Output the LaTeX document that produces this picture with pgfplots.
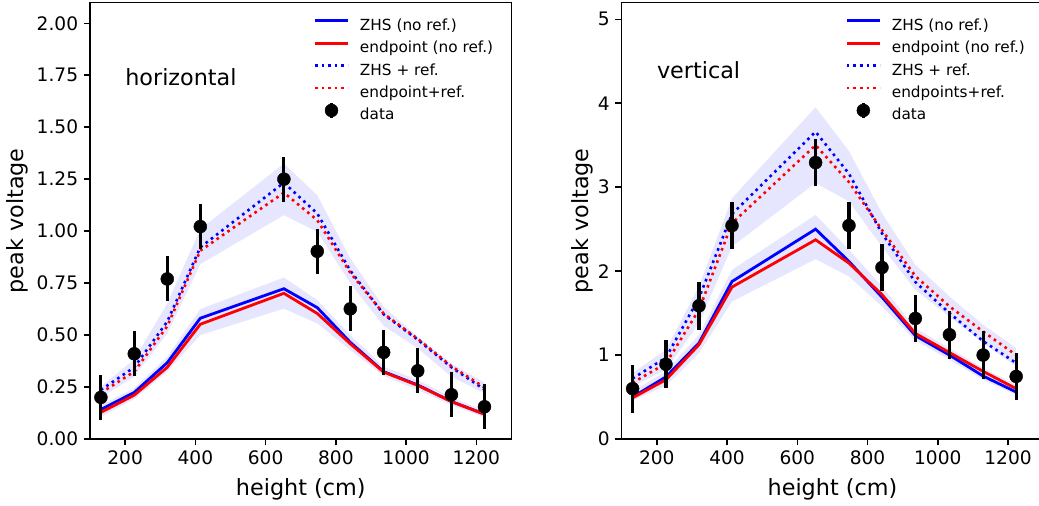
\documentclass[border=0pt]{standalone}
\usepackage{fontspec}
\setmainfont{DejaVu Sans}
\usepackage{pgfplots}
\pgfplotsset{compat=1.18}
\usepackage{pgfplotstable}
\usepgfplotslibrary{fillbetween}
\definecolor{bandc}{RGB}{230,230,255}
\newcommand\tickfont{\fontsize{18.6}{20}\selectfont}
\newcommand\labfont{\fontsize{22.3}{24}\selectfont}
\newcommand\legfont{\fontsize{15.3}{17}\selectfont}

% x: height; zs/es: ZHS / endpoint (no ref.); zd/ed: ZHS / endpoint + ref.
% lt/lb, ut/ub: lower and upper bands; d/e: data and error
\pgfplotstableread{
x    zs    es    zd    ed    lt    lb    ut    ub    d     e
131  0.142 0.128 0.236 0.222 0.163 0.107 0.252 0.200 0.200 0.108
226  0.224 0.211 0.345 0.324 0.244 0.192 0.383 0.300 0.410 0.108
320  0.367 0.345 0.565 0.543 0.396 0.324 0.652 0.508 0.770 0.108
414  0.581 0.552 0.922 0.906 0.625 0.500 1.010 0.841 1.022 0.108
652  0.723 0.701 1.233 1.185 0.777 0.627 1.325 1.077 1.250 0.108
747  0.632 0.604 1.085 1.053 0.668 0.556 1.173 0.997 0.903 0.108
841  0.465 0.458 0.810 0.800 0.500 0.428 0.869 0.749 0.626 0.108
936  0.324 0.322 0.600 0.603 0.348 0.303 0.636 0.545 0.417 0.108
1033 0.260 0.258 0.478 0.482 0.284 0.236 0.492 0.436 0.328 0.108
1129 0.180 0.180 0.345 0.350 0.200 0.163 0.364 0.300 0.213 0.108
1223 0.120 0.119 0.238 0.248 0.136 0.104 0.271 0.220 0.155 0.108
}\lefttab

\pgfplotstableread{
x    zs    es    zd    ed    lt    lb    ut    ub    d     e
131  0.500 0.490 0.720 0.670 0.567 0.460 0.786 0.626 0.600 0.285
226  0.740 0.706 0.970 0.900 0.805 0.635 1.063 0.825 0.890 0.285
320  1.143 1.123 1.680 1.540 1.242 1.024 1.817 1.380 1.587 0.285
414  1.876 1.810 2.680 2.570 2.015 1.638 2.869 2.293 2.543 0.285
652  2.500 2.373 3.660 3.500 2.670 2.143 3.952 3.050 3.293 0.285
747  2.115 2.095 3.160 3.060 2.254 1.936 3.430 2.830 2.543 0.285
841  1.690 1.720 2.450 2.490 1.817 1.579 2.690 2.290 2.043 0.285
936  1.232 1.258 1.870 1.940 1.321 1.174 2.075 1.777 1.436 0.285
1033 1.000 1.030 1.500 1.580 1.083 0.944 1.698 1.460 1.242 0.285
1129 0.750 0.805 1.165 1.280 0.845 0.706 1.360 1.143 1.000 0.285
1223 0.560 0.600 0.905 1.000 0.646 0.527 1.083 0.864 0.745 0.285
}\righttab

\pgfplotsset{
  myaxis/.style={
    scale only axis, width=421.5pt, height=436.5pt,
    anchor=south west,
    xmin=100, xmax=1300, ymin=0,
    axis line style={line width=1.5pt},
    every tick/.style={black, line width=1.5pt},
    major tick length=6.5pt, tick align=outside,
    xtick pos=left, ytick pos=left,
    xtick={200,400,600,800,1000,1200},
    /pgf/number format/assume math mode=true,
    /pgf/number format/1000 sep={},
    ticklabel style={font=\tickfont},
    xticklabel style={anchor=north, inner sep=0pt, yshift=-4.5pt},
    yticklabel style={anchor=east, inner sep=0pt, xshift=-5.2pt},
    xlabel={height (cm)}, ylabel={peak voltage},
    label style={font=\labfont},
    xlabel style={at={(axis description cs:0.5,-0.1283)}, anchor=base},
    legend cell align=left,
    legend style={anchor=north west, draw=none, fill=none,
      inner sep=0pt, outer sep=0pt, font=\legfont,
      row sep=5.9pt, column sep=12pt,
      nodes={inner sep=0pt, text height=12.5pt, text depth=4pt}},
  },
  lineleg/.style={legend image code/.code={%
    \pgfinterruptboundingbox\draw[##1] (0pt,5.2pt) -- (33pt,5.2pt);\endpgfinterruptboundingbox
    \path[draw=none, fill=none] (0pt,5.2pt) -- (33pt,5.2pt);}},
  solidl/.style={line width=2.8pt, lineleg},
  dotl/.style={line width=2.6pt, dash pattern=on 2.6pt off 4pt, lineleg},
  dataleg/.style={legend image code/.code={%
    \pgfinterruptboundingbox
    \draw[black, line width=3.2pt] (16.5pt,-2.5pt) -- (16.5pt,12.9pt);
    \fill[black] (16.5pt,5.2pt) circle (6.5pt);
    \endpgfinterruptboundingbox
    \path[draw=none, fill=none] (0pt,5.2pt) -- (33pt,5.2pt);}},
  datal/.style={black, only marks, mark=*, mark size=6.5pt, dataleg,
    error bars/y dir=both, error bars/y explicit,
    error bars/error bar style={line width=3.2pt, black},
    error bars/error mark=none},
}

\begin{document}
\begin{tikzpicture}
% ---------------- left: horizontal ----------------
\begin{axis}[myaxis, at={(90pt,67pt)}, ymax=2.1,
  ytick={0,0.25,0.5,0.75,1,1.25,1.5,1.75,2},
  yticklabel style={/pgf/number format/.cd, fixed, fixed zerofill, precision=2},
  ylabel style={at={(axis description cs:-0.1578,0.5)}, anchor=base},
  legend style={at={(axis description cs:0.5338,0.9650)}}]
\addplot[name path=lt, draw=none, forget plot] table[x=x, y=lt] {\lefttab};
\addplot[name path=lb, draw=none, forget plot] table[x=x, y=lb] {\lefttab};
\addplot[bandc, forget plot] fill between[of=lt and lb];
\addplot[name path=ut, draw=none, forget plot] table[x=x, y=ut] {\lefttab};
\addplot[name path=ub, draw=none, forget plot] table[x=x, y=ub] {\lefttab};
\addplot[bandc, forget plot] fill between[of=ut and ub];
\addplot[blue, solidl] table[x=x, y=zs] {\lefttab};
\addlegendentry{ZHS (no ref.)}
\addplot[red, solidl] table[x=x, y=es] {\lefttab};
\addlegendentry{endpoint (no ref.)}
\addplot[blue, dotl] table[x=x, y=zd] {\lefttab};
\addlegendentry{ZHS + ref.}
\addplot[red, dotl] table[x=x, y=ed] {\lefttab};
\addlegendentry{endpoint+ref.}
\addplot[datal] table[x=x, y=d, y error=e] {\lefttab};
\addlegendentry{data}
\node[anchor=base west, inner sep=0pt, font=\labfont] at (axis cs:200,1.7) {horizontal};
\end{axis}
% ---------------- right: vertical ----------------
\begin{axis}[myaxis, at={(621.7pt,67pt)}, ymax=5.2,
  ytick={0,1,2,3,4,5},
  ylabel style={at={(axis description cs:-0.0776,0.5)}, anchor=base},
  legend style={at={(axis description cs:0.5342,0.9650)}}]
\addplot[name path=lt, draw=none, forget plot] table[x=x, y=lt] {\righttab};
\addplot[name path=lb, draw=none, forget plot] table[x=x, y=lb] {\righttab};
\addplot[bandc, forget plot] fill between[of=lt and lb];
\addplot[name path=ut, draw=none, forget plot] table[x=x, y=ut] {\righttab};
\addplot[name path=ub, draw=none, forget plot] table[x=x, y=ub] {\righttab};
\addplot[bandc, forget plot] fill between[of=ut and ub];
\addplot[blue, solidl] table[x=x, y=zs] {\righttab};
\addlegendentry{ZHS (no ref.)}
\addplot[red, solidl] table[x=x, y=es] {\righttab};
\addlegendentry{endpoint (no ref.)}
\addplot[blue, dotl] table[x=x, y=zd] {\righttab};
\addlegendentry{ZHS + ref.}
\addplot[red, dotl] table[x=x, y=ed] {\righttab};
\addlegendentry{endpoints+ref.}
\addplot[datal] table[x=x, y=d, y error=e] {\righttab};
\addlegendentry{data}
\node[anchor=base west, inner sep=0pt, font=\labfont] at (axis cs:200,4.3) {vertical};
\end{axis}
\pgfresetboundingbox
\path[use as bounding box] (0,0) rectangle (1039pt,506pt);
\end{tikzpicture}
\end{document}
